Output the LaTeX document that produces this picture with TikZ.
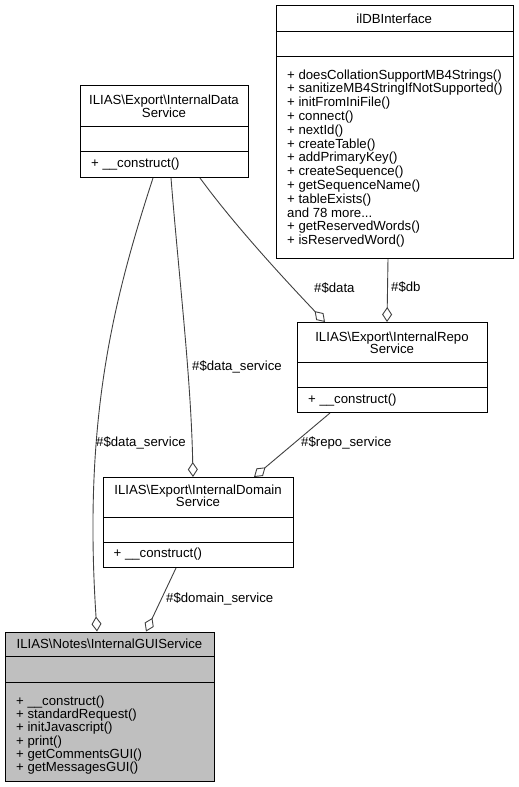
\documentclass[tikz,border=0pt]{standalone}
\usepackage{fontspec}
\setmainfont{Liberation Sans}
\usetikzlibrary{arrows.meta}
\definecolor{edgec}{HTML}{404040}
\definecolor{guifill}{HTML}{BFBFBF}
\begin{document}
\begin{tikzpicture}[x=1pt,y=-1pt,
  box/.style={draw=black, line width=1pt, inner sep=0pt, anchor=north west},
  sepline/.style={draw=black, line width=1pt},
  ttl/.style={inner sep=0pt, align=center, font=\fontsize{13.2}{12.5}\selectfont},
  mem/.style={inner sep=0pt, align=left, anchor=west, font=\fontsize{13.2}{13.8}\selectfont},
  conn/.style={draw=edgec, line width=0.9pt, -{Diamond[open,length=15pt,width=10pt]}},
  lbl/.style={inner sep=0pt, anchor=west, font=\fontsize{13.2}{13}\selectfont}]
\useasboundingbox (0,0) rectangle (519,787);

% boxes
\node[box, minimum width=236.5pt, minimum height=253pt] (db) at (276,5) {};
\node[box, minimum width=168pt, minimum height=92pt] (data) at (80,85) {};
\node[box, minimum width=190pt, minimum height=90pt] (repo) at (297,322) {};
\node[box, minimum width=190pt, minimum height=90pt] (domain) at (103,477) {};
\node[box, fill=guifill, minimum width=209pt, minimum height=149.5pt] (gui) at (5,631.5) {};

% separators
\draw[sepline] (276,31.5) -- (512.5,31.5) (276,56) -- (512.5,56);
\draw[sepline] (80,126.5) -- (248,126.5) (80,151) -- (248,151);
\draw[sepline] (297,362) -- (487,362) (297,387.5) -- (487,387.5);
\draw[sepline] (103,517) -- (293,517) (103,542) -- (293,542);
\draw[sepline] (5,656) -- (214,656) (5,682) -- (214,682);

% titles
\node[ttl] (dbt) at (394.25,18.5) {ilDBInterface};
\node[ttl] (datat) at (164,106.5) {ILIAS\textbackslash Export\textbackslash InternalData\\Service};
\node[ttl] (repot) at (392,343) {ILIAS\textbackslash Export\textbackslash InternalRepo\\Service};
\node[ttl] (domaint) at (198,496) {ILIAS\textbackslash Export\textbackslash InternalDomain\\Service};
\node[ttl] (guit) at (109.5,643.5) {ILIAS\textbackslash Notes\textbackslash InternalGUIService};

% members
\node[mem] (dbm) at (287,158.5) {+ doesCollationSupportMB4Strings()\\+ sanitizeMB4StringIfNotSupported()\\+ initFromIniFile()\\+ connect()\\+ nextId()\\+ createTable()\\+ addPrimaryKey()\\+ createSequence()\\+ getSequenceName()\\+ tableExists()\\and 78 more...\\+ getReservedWords()\\+ isReservedWord()};
\node[mem] (datam) at (91,164) {+ \_\_construct()};
\node[mem] (repom) at (308,400) {+ \_\_construct()};
\node[mem] (domainm) at (113.5,554.5) {+ \_\_construct()};
\node[mem, font=\fontsize{13.2}{13.2}\selectfont] (guim) at (16,735) {+ \_\_construct()\\+ standardRequest()\\+ initJavascript()\\+ print()\\+ getCommentsGUI()\\+ getMessagesGUI()};

% connectors
\draw[conn] ([xshift=112pt]db.south west) -- ([xshift=90pt]repo.north west);
\draw[conn] ([xshift=120pt]data.south west) .. controls +(35,48) and +(-38,-40) .. ([xshift=28pt]repo.north west);
\draw[conn] ([xshift=91pt]data.south west) .. controls +(8,100) and +(-2,-100) .. ([xshift=90pt]domain.north west);
\draw[conn] ([xshift=73pt]data.south west) .. controls +(-40,123) and +(-14,-211.5) .. ([xshift=92pt]gui.north west);
\draw[conn] ([xshift=33pt]repo.south west) -- ([xshift=151pt]domain.north west);
\draw[conn] ([xshift=73pt]domain.south west) -- ([xshift=141pt]gui.north west);

% labels
\node[lbl] (ldb) at (391,287) {\#\$db};
\node[lbl] (ldata) at (314,288) {\#\$data};
\node[lbl] (lds1) at (192,367) {\#\$data\_service};
\node[lbl] (lds2) at (96,443) {\#\$data\_service};
\node[lbl] (lrepo) at (301,443) {\#\$repo\_service};
\node[lbl] (ldom) at (166,599) {\#\$domain\_service};
\end{tikzpicture}
\end{document}
